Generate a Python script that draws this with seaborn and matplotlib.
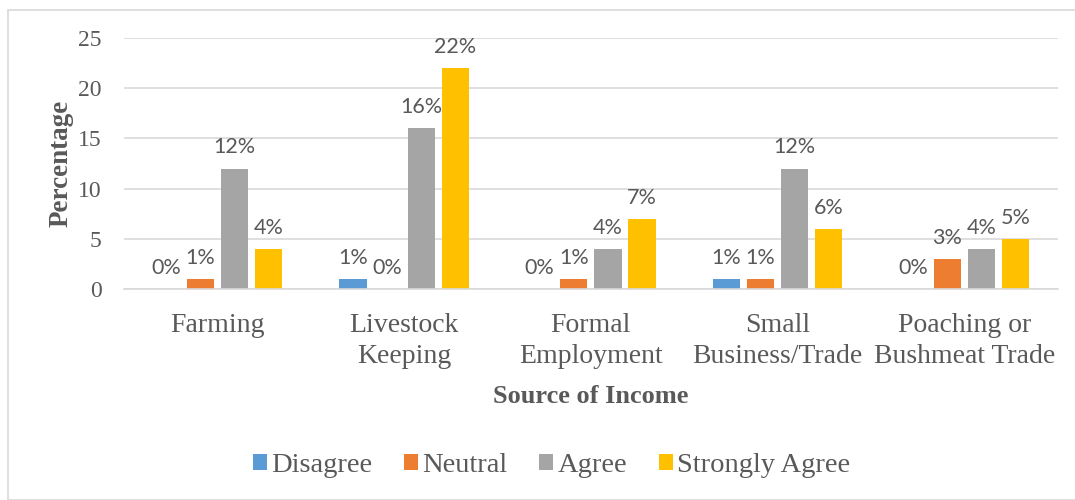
import matplotlib
matplotlib.use("Agg")
import matplotlib.pyplot as plt
from matplotlib.patches import Rectangle
import seaborn as sns
import pandas as pd

# Survey responses by source of income (percent of respondents)
categories = ["Farming", "Livestock\nKeeping", "Formal\nEmployment",
              "Small\nBusiness/Trade", "Poaching or\nBushmeat Trade"]
responses = ["Disagree", "Neutral", "Agree", "Strongly Agree"]
disagree = [0, 1, 0, 1, 0]
neutral = [1, 0, 1, 1, 3]
agree = [12, 16, 4, 12, 4]
strongly_agree = [4, 22, 7, 6, 5]
y_ticks = [0, 5, 10, 15, 20, 25]

colors = ["#5B9BD5", "#ED7D31", "#A5A5A5", "#FFC000"]
text_color = "#595959"

rows = []
for resp, vals in zip(responses, [disagree, neutral, agree, strongly_agree]):
    for cat, v in zip(categories, vals):
        rows.append({"Source": cat, "Response": resp, "Value": v})
df = pd.DataFrame(rows)

sns.set_theme(style="white")
plt.rcParams["font.family"] = ["Liberation Serif", "DejaVu Serif"]

fig = plt.figure(figsize=(10.75, 5), dpi=100)
ax = fig.add_axes([0.1153, 0.422, 0.8687, 0.502])

sns.barplot(data=df, x="Source", y="Value", hue="Response",
            hue_order=responses, order=categories, palette=colors,
            width=0.73, gap=0.2, saturation=1, ax=ax, legend=True,
            edgecolor="none")

for cont in ax.containers:
    ax.bar_label(cont, fmt="%d%%", padding=8, fontsize=15.5,
                 color=text_color, family=["Lato", "DejaVu Sans"])

ax.set_ylim(0, 25)
ax.set_yticks(y_ticks)
ax.set_yticklabels([str(t) for t in y_ticks], fontsize=17, color=text_color)
ax.set_xticks(range(len(categories)))
ax.set_xticklabels(categories, fontsize=20, color=text_color, linespacing=1.35)
ax.tick_params(axis="y", length=0, pad=16)
ax.tick_params(axis="x", length=0, pad=17)

ax.yaxis.grid(True, color="#D9D9D9", linewidth=1.2)
ax.set_axisbelow(True)
for side in ["top", "right", "left"]:
    ax.spines[side].set_visible(False)
ax.spines["bottom"].set_color("#D9D9D9")
ax.spines["bottom"].set_linewidth(1.2)

ax.set_ylabel("Percentage", fontsize=19.5, fontweight="bold", color=text_color)
ax.yaxis.set_label_coords(-0.054, 0.5)
ax.set_xlabel("Source of Income", fontsize=19, fontweight="bold",
              color=text_color)
ax.xaxis.set_label_coords(0.5, -0.383)

leg = ax.legend(loc="center", bbox_to_anchor=(0.513, 0.069),
                bbox_transform=fig.transFigure, ncol=4, frameon=False,
                fontsize=20.5, handlelength=0.5, handleheight=0.5,
                handletextpad=0.14, columnspacing=1.12, labelcolor=text_color)

# Chart border
fig.patches.append(Rectangle((8 / 1075, 0.0), 1.2, 0.98, transform=fig.transFigure,
                             fill=False, edgecolor="#D9D9D9", linewidth=1.2))

fig.savefig("out.png", dpi=100, facecolor="white")
